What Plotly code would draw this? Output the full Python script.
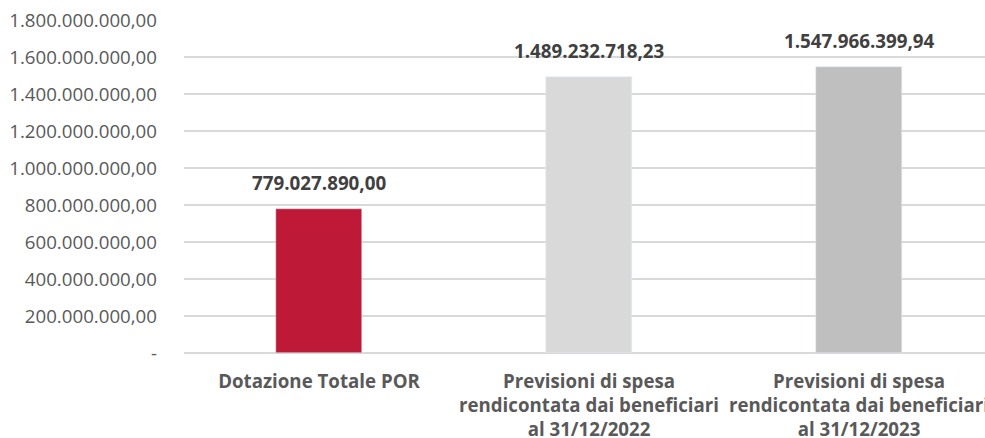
import plotly.graph_objects as go

categories = [
    "Dotazione Totale POR",
    "Previsioni di spesa<br>rendicontata dai beneficiari<br>al 31/12/2022",
    "Previsioni di spesa<br>rendicontata dai beneficiari<br>al 31/12/2023",
]
values = [779027890.00, 1489232718.23, 1547966399.94]
colors = ["#BE1A37", "#D9D9D9", "#BFBFBF"]
tick_vals = [0, 200e6, 400e6, 600e6, 800e6, 1000e6, 1200e6, 1400e6, 1600e6, 1800e6]


def it_fmt(v, dec=2):
    s = f"{v:,.{dec}f}"
    return s.replace(",", "X").replace(".", ",").replace("X", ".")


tick_text = ["-" if v == 0 else it_fmt(v) for v in tick_vals]
labels = [it_fmt(v) for v in values]

fig = go.Figure()
fig.add_trace(go.Bar(
    x=categories, y=values, marker_color=colors, width=0.32,
    hoverinfo="skip",
))
for c, v, t in zip(categories, values, labels):
    fig.add_annotation(x=c, y=v, text="<b>" + t + "</b>", showarrow=False,
                       yanchor="bottom", yshift=11,
                       font=dict(family="Open Sans", size=18.8, color="#404040"))

fig.update_layout(
    width=985, height=438,
    margin=dict(l=184, r=0, t=20, b=85),
    plot_bgcolor="white", paper_bgcolor="white",
    showlegend=False,
    bargap=0,
    font=dict(family="Open Sans", color="#595959"),
)
fig.update_xaxes(
    range=[-0.5, 2.5 - 9 / 270],
    tickfont=dict(family="Open Sans", size=18.7, color="#595959", weight="bold"),
    showgrid=False, ticks="", ticklabelstandoff=15,
    showline=False, automargin=False,
)
fig.update_yaxes(
    range=[0, 1.8e9],
    tickvals=tick_vals, ticktext=tick_text,
    tickfont=dict(family="Open Sans", size=18.7, color="#595959"),
    showgrid=True, gridcolor="#D9D9D9", gridwidth=1.5,
    zeroline=True, zerolinecolor="#D9D9D9", zerolinewidth=1.5,
    ticks="", ticklabelstandoff=26, showline=False, automargin=False,
)
fig.write_html(
    "out.html",
    config={"displayModeBar": False},
    post_script="document.body.style.margin='0';document.body.style.overflow='hidden';",
)
